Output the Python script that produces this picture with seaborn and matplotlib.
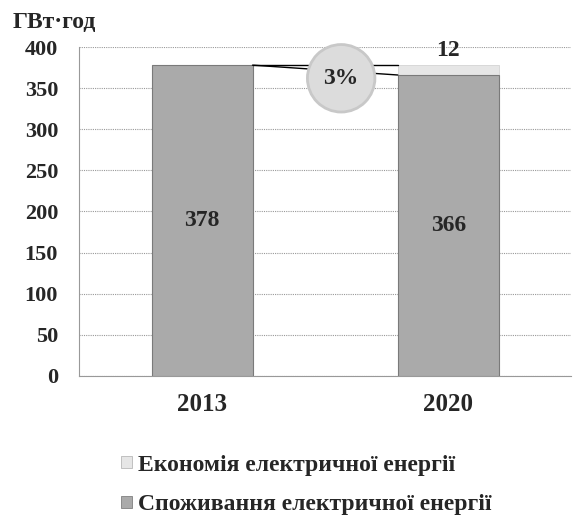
import matplotlib
matplotlib.use('Agg')
import matplotlib.pyplot as plt
from matplotlib.patches import Patch
import pandas as pd
import seaborn as sns

years = ['2013', '2020']
consumption = [378, 366]
savings = [0, 12]
share_label = '3%'
unit = 'ГВт·год'
legend_labels = ['Економія електричної енергії', 'Споживання електричної енергії']

sns.set_style('white')
plt.rcParams['font.family'] = ['Liberation Serif', 'DejaVu Serif']
plt.rcParams['font.weight'] = 'bold'

df = pd.DataFrame({'year': years, 'consumption': consumption, 'savings': savings})
df['total'] = df['consumption'] + df['savings']

fig = plt.figure(figsize=(5.76, 5.17), dpi=100)
ax = fig.add_axes([0.137, 0.273, 0.855, 0.636])

bw = 0.41
light = '#e6e6e6'
dark = '#aaaaaa'
# total first (savings on top), then consumption over it
sns.barplot(data=df, x='year', y='total', color=light, width=bw, saturation=1,
            edgecolor='#d4d4d4', linewidth=0.6, ax=ax, zorder=2)
sns.barplot(data=df, x='year', y='consumption', color=dark, width=bw, saturation=1,
            edgecolor='#7a7a7a', linewidth=0.8, ax=ax, zorder=3)

# connector lines between bars
x0 = 0 + bw / 2
x1 = 1 - bw / 2
ax.plot([x0, x1], [df['total'][0], df['total'][1]], color='black', lw=1.0, zorder=4)
ax.plot([x0, x1], [df['total'][0], df['consumption'][1]], color='black', lw=1.0, zorder=4)

for i, v in enumerate(consumption):
    ax.text(i, v / 2, str(v), ha='center', va='center', fontsize=17, fontweight='bold', zorder=5)
ax.text(1, df['total'][1] + 5, str(savings[1]), ha='center', va='bottom', fontsize=17,
        fontweight='bold', zorder=5)

ax.text(0.565, 362, share_label, ha='center', va='center', fontsize=17, fontweight='bold', zorder=6,
        bbox=dict(boxstyle='circle,pad=0.68', fc='#dcdcdc', ec='#c8c8c8', lw=2))

ax.set_ylim(0, 400)
ax.set_xlim(-0.5, 1.5)
ax.set_yticks(range(0, 401, 50))
ax.yaxis.grid(True, color='#999999', linestyle=(0, (1, 1)), lw=0.8, zorder=0)
ax.set_axisbelow(True)
ax.set_xlabel('')
ax.set_ylabel('')
for s in ['top', 'right']:
    ax.spines[s].set_visible(False)
ax.spines['left'].set_color('#999999')
ax.spines['left'].set_linestyle((0, (1, 1)))
ax.spines['bottom'].set_color('#999999')
ax.spines['bottom'].set_linestyle((0, (1, 1)))
ax.tick_params(axis='y', length=5, color='#999999', pad=10, labelsize=16)
ax.tick_params(axis='x', length=0, pad=12, labelsize=18)
for t in ax.get_xticklabels() + ax.get_yticklabels():
    t.set_fontweight('bold')

fig.text(0.022, 1 - 22 / 517, unit, ha='left', va='center', fontsize=17, fontweight='bold')

handles = [Patch(fc=light, ec='#b8b8b8', lw=0.6), Patch(fc=dark, ec='#808080', lw=0.6)]
fig.legend(handles, legend_labels, loc='center left', bbox_to_anchor=(0.19, 1 - 485 / 517),
           frameon=False, borderpad=0, handlelength=0.45, handleheight=0.45,
           handletextpad=0.25, labelspacing=0.8, prop={'weight': 'bold', 'size': 17})

fig.savefig('out.png', dpi=100)
